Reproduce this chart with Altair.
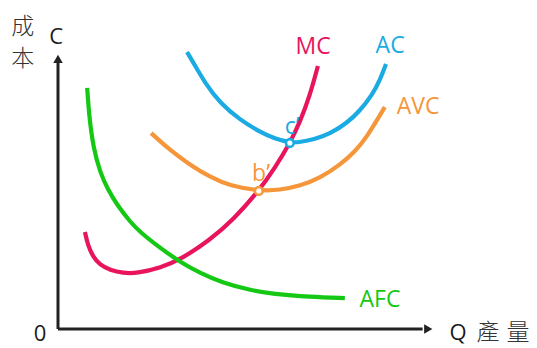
import altair as alt
import pandas as pd

# Curves (Q: quantity units, C: cost units; axis arrows at 100)
mc_q = [7.2, 8.0, 9.4, 11.2, 13.9, 17.4, 21.1, 27.3, 32.6, 40.6, 46.8, 53.7, 58.0, 62.0, 64.7, 67.4, 69.5]
mc_c = [35.4, 30.5, 26.3, 23.4, 21.5, 20.4, 20.3, 22.3, 25.2, 32.5, 39.8, 50.4, 58.8, 67.9, 75.5, 85.4, 96.0]

ac_q = [34.5, 36.1, 39.3, 43.3, 48.7, 54.0, 58.0, 62.0, 64.7, 68.7, 72.7, 77.3, 80.7, 84.0, 86.1, 87.7]
ac_c = [101.1, 97.4, 89.8, 82.5, 76.3, 71.9, 69.4, 68.0, 68.2, 69.3, 71.2, 75.2, 79.6, 85.4, 90.9, 96.7]

avc_q = [24.9, 29.9, 35.3, 40.6, 46.0, 53.7, 59.4, 64.7, 70.1, 75.4, 79.4, 82.9, 85.3, 87.4]
avc_c = [71.5, 65.3, 59.9, 55.5, 52.2, 50.4, 50.7, 52.2, 55.1, 59.9, 64.6, 70.8, 76.3, 81.0]

afc_q = [7.8, 8.3, 9.4, 11.2, 13.4, 15.8, 19.3, 21.9, 27.3, 32.6, 38.0, 44.1, 51.3, 57.5, 67.4, 76.7]
afc_c = [88.0, 78.1, 66.4, 57.3, 50.7, 45.3, 39.1, 35.4, 29.6, 24.5, 20.4, 16.8, 14.2, 12.8, 11.7, 11.3]

series = ["MC", "AC", "AVC", "AFC"]
colors = ["#E8145E", "#1BABE3", "#F5963A", "#14C814"]

# Labels
label_text = ["MC", "AC", "AVC", "AFC", "c\u2019", "b\u2019"]
label_q = [68.2, 88.8, 96.3, 86.1, 62.6, 54.3]
label_c = [102.9, 103.3, 81.0, 10.6, 73.7, 56.6]
label_col = ["#E8145E", "#1BABE3", "#F5963A", "#14C814", "#1BABE3", "#F5963A"]

# Intersection points c' and b'
pt_q = [62.0, 53.7]
pt_c = [67.9, 50.4]
pt_col = ["#1BABE3", "#F5963A"]

# Axis texts
ax_text = ["C", "0", "Q"]
ax_q = [-0.5, -4.8, 107.0]
ax_c = [106.6, -1.8, -1.5]
cjk_text = ["成", "本", "產", "量"]
cjk_q = [-9.4, -9.4, 115.0, 123.0]
cjk_c = [110.2, 98.5, -1.5, -1.5]

rows = []
for name, qs, cs in [("MC", mc_q, mc_c), ("AC", ac_q, ac_c), ("AVC", avc_q, avc_c), ("AFC", afc_q, afc_c)]:
    for i, (q, c) in enumerate(zip(qs, cs)):
        rows.append({"series": name, "Q": q, "C": c, "order": i})
curves = pd.DataFrame(rows)

xs = alt.Scale(domain=[-13.37, 125.94], nice=False, zero=False)
ys = alt.Scale(domain=[-6.93, 117.15], nice=False, zero=False)
X = lambda f="Q": alt.X(f"{f}:Q", scale=xs, axis=None)
Y = lambda f="C": alt.Y(f"{f}:Q", scale=ys, axis=None)

lines = alt.Chart(curves).mark_line(strokeWidth=4.2, interpolate="basis", strokeCap="butt").encode(
    x=X(), y=Y(),
    color=alt.Color("series:N", scale=alt.Scale(domain=series, range=colors), legend=None),
    order="order:Q",
)

axes_df = pd.DataFrame({"x1": [0, 0], "y1": [0, 0], "x2": [0, 97.5], "y2": [97.5, 0]})
axes = alt.Chart(axes_df).mark_rule(color="#222222", strokeWidth=3).encode(
    x=X("x1"), y=Y("y1"), x2="x2:Q", y2="y2:Q"
)
arrow_df = pd.DataFrame({"Q": [0, 99.0], "C": [98.6, 0], "shape": ["triangle-up", "triangle-right"]})
arrows = alt.Chart(arrow_df).mark_point(filled=True, color="#222222", size=90, opacity=1).encode(
    x=X(), y=Y(), shape=alt.Shape("shape:N", scale=None)
)

pts = alt.Chart(pd.DataFrame({"Q": pt_q, "C": pt_c, "col": pt_col})).mark_point(
    filled=False, fill="white", fillOpacity=1, strokeWidth=2.6, size=60, opacity=1
).encode(x=X(), y=Y(), stroke=alt.Stroke("col:N", scale=None))

labels = alt.Chart(pd.DataFrame({"t": label_text, "Q": label_q, "C": label_c, "col": label_col})).mark_text(
    font="Open Sans", fontSize=23, align="center", baseline="middle"
).encode(x=X(), y=Y(), text="t:N", color=alt.Color("col:N", scale=None))

axtxt = alt.Chart(pd.DataFrame({"t": ax_text, "Q": ax_q, "C": ax_c})).mark_text(
    font="Open Sans", fontSize=22, align="center", baseline="middle", color="#1a1a1a"
).encode(x=X(), y=Y(), text="t:N")

cjk = alt.Chart(pd.DataFrame({"t": cjk_text, "Q": cjk_q, "C": cjk_c})).mark_text(
    font="Noto Sans CJK TC", fontSize=23, fontWeight=300, align="center", baseline="middle", color="#333333"
).encode(x=X(), y=Y(), text="t:N")

chart = alt.layer(lines, axes, arrows, pts, labels, axtxt, cjk).properties(
    width=521, height=340, padding=0, autosize=alt.AutoSizeParams(type="none"),
    background="white",
).configure_view(stroke=None)

chart.save("out.html", embed_options={"renderer": "svg", "actions": False})
